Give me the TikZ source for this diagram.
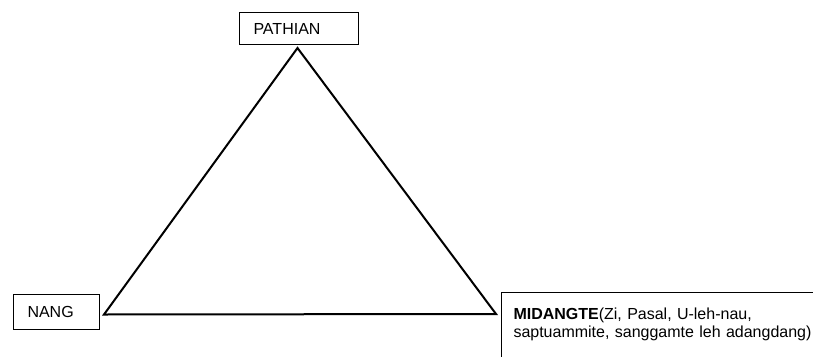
\documentclass[tikz,border=0pt]{standalone}
\usepackage{fontspec}
\setmainfont{Liberation Sans}
\usetikzlibrary{positioning,calc}
\tikzset{
	labelbox/.style={draw,line width=1pt,anchor=north west,align=left,inner sep=0pt,font=\fontsize{16}{18}\selectfont},
	side/.style={color=black,line width=2pt,line join=miter}
}
\begin{document}
\begin{tikzpicture}[x=1pt,y=-1pt]
	\path[use as bounding box,clip] (0,0) rectangle (813,356);
	%%%boxes
	\node[labelbox,minimum width=119,minimum height=32,text width=91,inner xsep=14] (pathian) at (239,12) {PATHIAN};
	\node[labelbox,minimum width=86,minimum height=35,text width=58,inner xsep=14] (nang) at (13,294) {NANG};
	\node[labelbox,text width=320,inner xsep=12,inner ysep=15,text height=12,text depth=60] (midangte) at (501,292)
	{\textbf{MIDANGTE}(Zi, Pasal, U-leh-nau,\\saptuammite, sanggamte leh adangdang)};

	%%%triangle
	\coordinate (top) at ($(pathian.south)+(-1.5,3)$);
	\coordinate (left) at ($(nang.east)+(4,2.5)$);
	\coordinate (right) at ($(midangte.north west)+(-5,22)$);
	\draw[side] (top) -- (right) -- (left) -- cycle;

\end{tikzpicture}
\end{document}
